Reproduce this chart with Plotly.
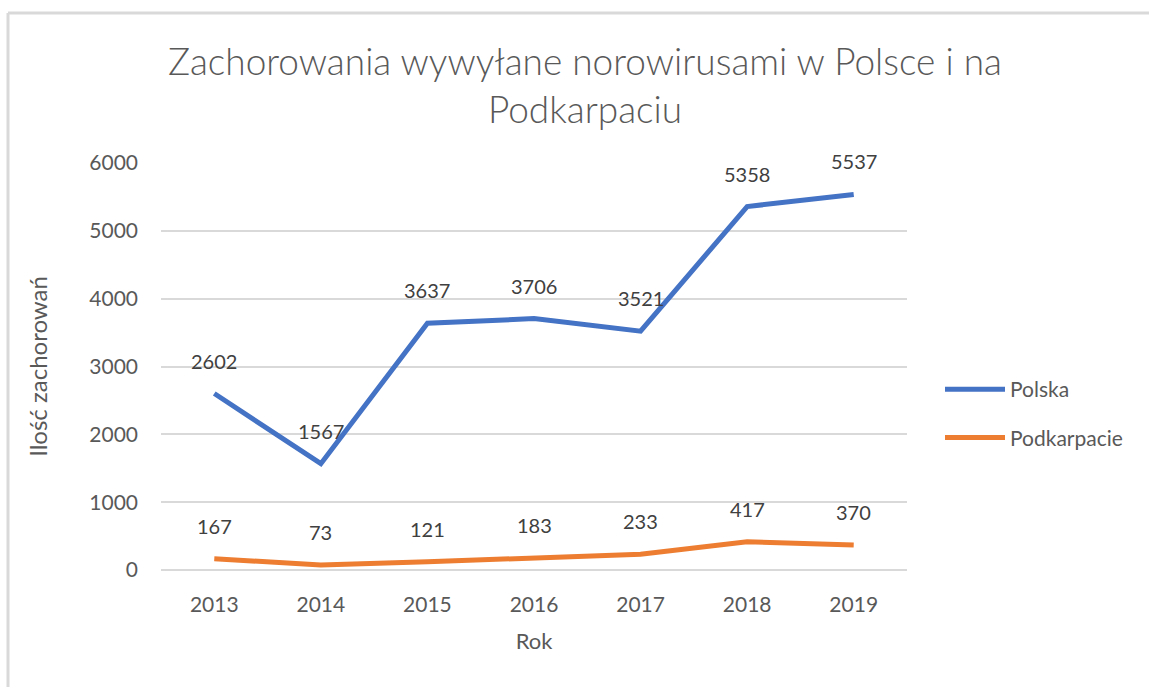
import plotly.graph_objects as go

years = ["2013", "2014", "2015", "2016", "2017", "2018", "2019"]
polska = [2602, 1567, 3637, 3706, 3521, 5358, 5537]
podkarpacie = [167, 73, 121, 183, 233, 417, 370]
series_names = ["Polska", "Podkarpacie"]
colors = ["#4472C4", "#ED7D31"]

W, H = 1149, 687
L, R, T, B = 161, 242, 163, 117
pw, ph = W - L - R, H - T - B
FONT = "Lato"

fig = go.Figure()
for name, vals, col in zip(series_names, [polska, podkarpacie], colors):
    fig.add_trace(go.Scatter(
        x=years, y=vals, name=name, mode="lines",
        line=dict(color=col, width=5),
        legendgroup=name,
        hoverinfo="x+y",
    ))
    for i, v in enumerate(vals):
        fig.add_annotation(x=i, y=v, xref="x", yref="y", text=str(v), showarrow=False,
                           yshift=33, font=dict(family=FONT, size=20, color="#404040"))

def px_x(p):
    return (p - L) / pw

def px_y(p):
    return (H - B - p) / ph

border = dict(color="#d9d9d9", width=3)
fig.add_shape(type="line", xref="paper", yref="paper",
              x0=px_x(8), x1=px_x(W + 5), y0=px_y(13), y1=px_y(13), line=border)
fig.add_shape(type="line", xref="paper", yref="paper",
              x0=px_x(8), x1=px_x(8), y0=px_y(13), y1=px_y(H + 5), line=border)

fig.update_layout(
    width=W, height=H,
    margin=dict(l=L, r=R, t=T, b=B, autoexpand=False),
    paper_bgcolor="white", plot_bgcolor="white",
    font=dict(family=FONT, color="#595959"),
    title=dict(
        text="Zachorowania wywyłane norowirusami w Polsce i na<br>Podkarpaciu",
        x=585 / W, xanchor="center", y=1 - 75 / H, yanchor="middle",
        font=dict(family=FONT, size=37, color="#595959", weight=300),
    ),
    xaxis=dict(
        type="category", range=[-0.5, 6.5],
        showgrid=False, showline=False, zeroline=False,
        tickfont=dict(family=FONT, size=21, color="#595959"),
        ticks="", ticklabelstandoff=20,
        title=dict(text="Rok", font=dict(family=FONT, size=22, color="#595959"), standoff=18),
    ),
    yaxis=dict(
        range=[0, 6000], dtick=1000, tick0=0,
        showgrid=True, gridcolor="#d9d9d9", gridwidth=2,
        zeroline=True, zerolinecolor="#d9d9d9", zerolinewidth=2,
        showline=False, ticks="",
        tickfont=dict(family=FONT, size=21, color="#595959"),
        ticklabelstandoff=22,
        title=dict(text="Ilość zachorowań", font=dict(family=FONT, size=24, color="#595959"), standoff=34),
    ),
    legend=dict(
        x=px_x(940), y=px_y(369), xanchor="left", yanchor="top",
        font=dict(family=FONT, size=21, color="#595959"),
        tracegroupgap=18, itemwidth=60, bgcolor="rgba(0,0,0,0)",
    ),
    showlegend=True,
)

fig.write_html("out.html")
